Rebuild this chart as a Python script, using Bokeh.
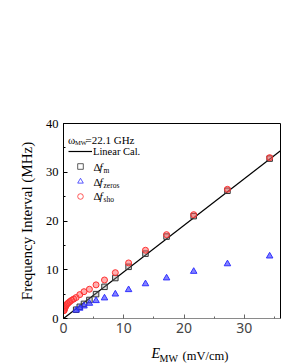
from bokeh.plotting import figure
from bokeh.models import (ColumnDataSource, Range1d, SingleIntervalTicker, Label,
                          Legend, LegendItem)
from bokeh.embed import file_html
from bokeh.resources import INLINE

# ---- data ----
E_grid = [2.1, 2.7, 3.4, 4.3, 5.4, 6.8, 8.6, 10.8, 13.6, 17.1, 21.6, 27.2, 34.2]
df_m = [1.8, 2.4, 3.0, 3.8, 5.0, 6.5, 8.3, 10.6, 13.3, 16.8, 21.0, 26.2, 32.8]
df_zeros = [1.7, 2.1, 2.55, 3.1, 3.65, 4.2, 5.0, 5.9, 7.1, 8.3, 9.65, 11.2, 12.8]
E_sho = [0.07, 0.14, 0.22, 0.3, 0.4, 0.52, 0.66, 0.85, 1.08, 1.36, 1.7, 2.1, 2.7,
         3.4, 4.3, 5.4, 6.8, 8.6, 10.8, 13.6, 17.1, 21.6, 27.2, 34.2]
df_sho = [1.6, 1.8, 2.1, 2.35, 2.6, 2.85, 3.05, 3.25, 3.5, 3.75, 4.0, 4.3, 4.9,
          5.5, 6.0, 6.9, 7.9, 9.4, 11.4, 14.0, 17.2, 21.3, 26.5, 33.0]
lin_E = [0, 36]
lin_f = [0, 34.4]

SERIF = "Liberation Serif"

p = figure(frame_width=217, frame_height=195, output_backend="svg",
           toolbar_location=None, x_range=Range1d(0, 36), y_range=Range1d(0, 40),
           min_border_left=63, min_border_right=1, min_border_top=123,
           min_border_bottom=40)
p.background_fill_color = "white"
p.border_fill_color = "white"
p.outline_line_color = "black"
p.outline_line_width = 1
p.xgrid.visible = False
p.ygrid.visible = False

p.xaxis.ticker = SingleIntervalTicker(interval=10, num_minor_ticks=2)
p.yaxis.ticker = SingleIntervalTicker(interval=10, num_minor_ticks=2)
for ax in (p.xaxis[0], p.yaxis[0]):
    ax.major_tick_in = 4
    ax.major_tick_out = 0
    ax.minor_tick_in = 2
    ax.minor_tick_out = 0
p.xaxis.axis_line_color = "#8a8a8a"
p.xaxis.major_tick_line_color = "#666666"
p.xaxis.minor_tick_line_color = "#666666"
p.xaxis.major_label_text_font = "Noto Sans"
p.xaxis.major_label_text_font_size = "14px"
p.xaxis.major_label_text_color = "#444444"
p.xaxis.major_label_standoff = 4
p.yaxis.major_label_text_font = SERIF
p.yaxis.major_label_text_font_size = "12.5px"
p.yaxis.major_label_text_color = "black"
p.yaxis.major_label_standoff = 5
p.yaxis.axis_label = "Frequency Interval (MHz)"
p.yaxis.axis_label_text_font = SERIF
p.yaxis.axis_label_text_font_size = "15px"
p.yaxis.axis_label_text_font_style = "normal"
p.yaxis.axis_label_text_color = "black"
p.yaxis.axis_label_standoff = 8

lin = p.line(lin_E, lin_f, line_color="black", line_width=1.2)
p.scatter(E_grid, df_m, marker="square", size=5.5, line_color="#333333",
          fill_color="#999999", fill_alpha=0.35, line_width=1)
p.scatter(E_grid, df_zeros, marker="triangle", size=6.5, line_color="#3030ff",
          fill_color="#3030ff", fill_alpha=0.6, line_width=1)
p.scatter(E_sho, df_sho, marker="circle", size=6, line_color="#ff3030",
          fill_color="#ff5050", fill_alpha=0.45, line_width=1)

# legend keys (renderers with no visible points, styled as keys)
nan = float("nan")
key_src = ColumnDataSource(data=dict(x=[nan], y=[nan]))
k_m = p.scatter("x", "y", source=key_src, marker="square", size=4,
                line_color="#333333", fill_color=None, line_width=0.8)
k_z = p.scatter("x", "y", source=key_src, marker="triangle", size=5,
                line_color="#3030ff", fill_color=None, line_width=0.8)
k_s = p.scatter("x", "y", source=key_src, marker="circle", size=4.5,
                line_color="#ff3030", fill_color=None, line_width=0.8)
leg = Legend(items=[LegendItem(label=" ", renderers=[lin]),
                    LegendItem(label=" ", renderers=[k_m]),
                    LegendItem(label=" ", renderers=[k_z]),
                    LegendItem(label=" ", renderers=[k_s])],
             location=(5, 115), glyph_width=24, glyph_height=14, label_height=14,
             spacing=1, padding=0, margin=0, border_line_color=None,
             background_fill_alpha=0, label_width=1, label_standoff=0)
p.add_layout(leg, "center")

def lab(text, xo, yo, size, style="normal", x=0, y=40, units="data", place="center"):
    p.add_layout(Label(x=x, y=y, x_units=units, y_units=units,
                       x_offset=xo, y_offset=yo, text=text,
                       text_font=SERIF, text_font_size=size,
                       text_font_style=style, text_baseline="middle",
                       text_align="left", text_color="black"), place)

# legend texts (offsets in px from the top-left corner of the frame)
lab("ω", 4.5, -16, "11px")
lab("MW", 11.5, -19, "6.5px")
lab("=22.1 GHz", 22, -16, "11px")
lab("Linear Cal.", 29.5, -28, "10.5px")
rows = [("m", -43), ("zeros", -58), ("sho", -72)]
for sub, yo in rows:
    lab("Δ", 30, yo, "11px")
    lab("f", 36, yo, "11px", "italic")
    lab(sub, 40, yo - 4, "7.5px")

# x-axis label, in the panels below the axis (each label sits in its own panel)
lab("E", 88, -3, "14px", "italic", x=0, y=0, units="screen", place="below")
lab("MW", 96, 3.5, "10px", x=0, y=0, units="screen", place="below")
lab("(mV/cm)", 119, 20, "12.5px", x=0, y=0, units="screen", place="below")

open("out.html", "w").write(file_html(p, INLINE))
